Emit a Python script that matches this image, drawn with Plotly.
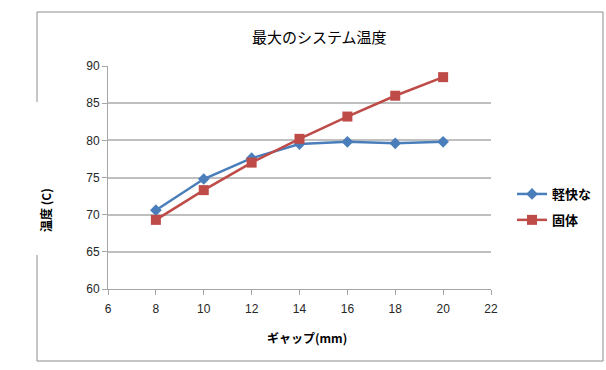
import plotly.graph_objects as go

gap_mm = [8, 10, 12, 14, 16, 18, 20]
light_temp = [70.6, 74.8, 77.6, 79.5, 79.8, 79.6, 79.8]
solid_temp = [69.3, 73.3, 77.0, 80.2, 83.2, 86.0, 88.5]
series_names = ["軽快な", "固体"]
title_text = "最大のシステム温度"
x_title = "ギャップ(mm)"
y_title = "温度 (C)"

W, H = 606, 370
L, R, T, B = 108, 115, 66, 81
pw, ph = W - L - R, H - T - B

def px(x):
    return (x - L) / pw

def py(y):
    return (H - B - y) / ph

FONT = "Liberation Sans, Noto Sans CJK JP, sans-serif"
JP = "Noto Sans CJK JP, sans-serif"

fig = go.Figure()
fig.add_trace(go.Scatter(
    x=gap_mm, y=light_temp, name=series_names[0], mode="lines+markers",
    legendgroup="a",
    line=dict(color="#4a7ebb", width=2.5),
    marker=dict(symbol="diamond", size=9, color="#4a7ebb"),
))
fig.add_trace(go.Scatter(
    x=gap_mm, y=solid_temp, name=series_names[1], mode="lines+markers",
    legendgroup="b",
    line=dict(color="#be4b48", width=2.5),
    marker=dict(symbol="square", size=10, color="#be4b48"),
))

border = "#8c8c8c"
shapes = [
    dict(type="line", xref="paper", yref="paper", x0=px(37), x1=px(603), y0=py(12), y1=py(12), line=dict(color=border, width=1)),
    dict(type="line", xref="paper", yref="paper", x0=px(603), x1=px(603), y0=py(12), y1=py(361), line=dict(color=border, width=1)),
    dict(type="line", xref="paper", yref="paper", x0=px(37), x1=px(603), y0=py(361), y1=py(361), line=dict(color=border, width=1)),
    dict(type="line", xref="paper", yref="paper", x0=px(37), x1=px(37), y0=py(12), y1=py(102), line=dict(color=border, width=1)),
    dict(type="line", xref="paper", yref="paper", x0=px(37), x1=px(37), y0=py(255), y1=py(361), line=dict(color=border, width=1)),
]

annotations = [
    dict(text=title_text, xref="paper", yref="paper", x=px(319), y=py(36),
         showarrow=False, font=dict(family=JP, size=15, color="#000"), xanchor="center", yanchor="middle"),
    dict(text=f"<b>{x_title}</b>", xref="paper", yref="paper", x=px(307), y=py(337),
         showarrow=False, font=dict(family=JP, size=12, color="#000"), xanchor="center", yanchor="middle"),
    dict(text=f"<b>{y_title}</b>", xref="paper", yref="paper", x=px(45), y=py(210),
         showarrow=False, textangle=-90, font=dict(family=JP, size=12, color="#000"), xanchor="center", yanchor="middle"),
]

fig.update_layout(
    width=W, height=H,
    margin=dict(l=L, r=R, t=T, b=B, autoexpand=False),
    paper_bgcolor="white", plot_bgcolor="white",
    font=dict(family=FONT, size=12, color="#262626"),
    shapes=shapes, annotations=annotations,
    showlegend=True,
    legend=dict(x=px(512), y=py(207), xanchor="left", yanchor="middle",
                font=dict(family=JP, size=13, color="#000", weight="bold"), itemwidth=30,
                bgcolor="rgba(0,0,0,0)", tracegroupgap=6),
)
fig.update_xaxes(range=[6, 22], dtick=2, tick0=6, showgrid=False, zeroline=False,
                 showline=True, linecolor="#a6a6a6", linewidth=1,
                 ticks="outside", ticklen=5, tickcolor="#a6a6a6", ticklabelstandoff=4)
fig.update_yaxes(range=[60, 90], dtick=5, showgrid=True, gridcolor="#bfbfbf", gridwidth=1.5,
                 zeroline=False, showline=True, linecolor="#a6a6a6", linewidth=1,
                 ticks="outside", ticklen=5, tickcolor="#a6a6a6")

fig.write_html("out.html", config={"displayModeBar": False},
               post_script="document.body.style.margin='0';document.body.style.overflow='hidden';")
